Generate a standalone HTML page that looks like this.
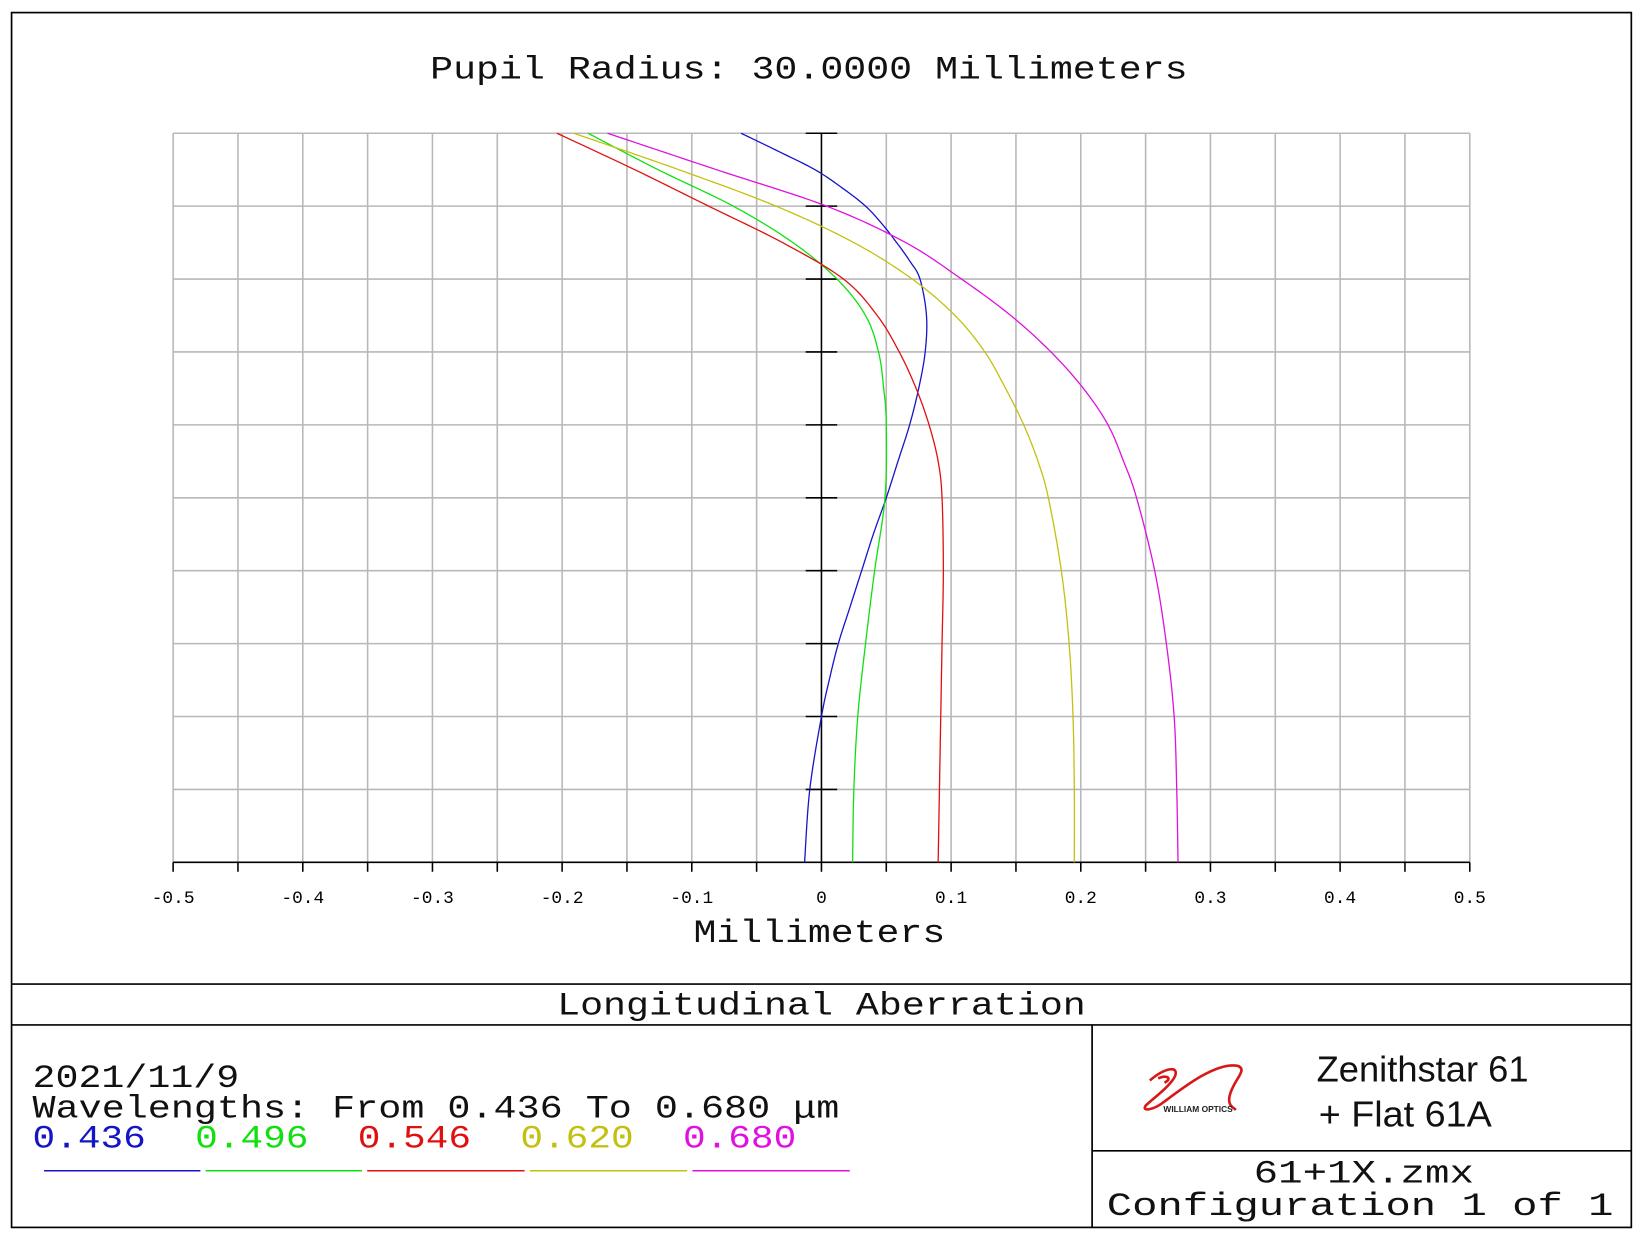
<!DOCTYPE html>
<html><head><meta charset="utf-8"><style>
html,body{margin:0;padding:0;background:#fff;}
svg{display:block;}
.m{font-family:"Liberation Mono","DejaVu Sans Mono",monospace;}
</style></head><body>
<svg width="1645" height="1240" viewBox="0 0 1568 1182" xmlns="http://www.w3.org/2000/svg">
<rect x="0" y="0" width="1568" height="1182" fill="#fff"/>
<rect x="11" y="12" width="1544" height="1158" fill="none" stroke="#000" stroke-width="1.6"/>
<text class="m" x="771" y="75" font-size="31" fill="#111" text-anchor="middle" textLength="722" lengthAdjust="spacingAndGlyphs">Pupil Radius: 30.0000 Millimeters</text>
<g stroke="#b8b8b8" stroke-width="1.5" fill="none">
<path d="M165 127V822M226.8 127V822M288.6 127V822M350.4 127V822M412.2 127V822M474 127V822M535.8 127V822M597.6 127V822M659.4 127V822M721.2 127V822M844.8 127V822M906.6 127V822M968.4 127V822M1030.2 127V822M1092 127V822M1153.8 127V822M1215.6 127V822M1277.4 127V822M1339.2 127V822M1401 127V822"/>
<path d="M165 127H1401M165 196.5H1401M165 266H1401M165 335.5H1401M165 405H1401M165 474.5H1401M165 544H1401M165 613.5H1401M165 683H1401M165 752.5H1401"/>
</g>
<g stroke="#000" stroke-width="1.5" fill="none">
<path d="M165 822H1401M783 127V822"/>
<path d="M768 127H798M768 196.5H798M768 266H798M768 335.5H798M768 405H798M768 474.5H798M768 544H798M768 613.5H798M768 683H798M768 752.5H798"/>
<path d="M165 822v9M226.8 822v9M288.6 822v9M350.4 822v9M412.2 822v9M474 822v9M535.8 822v9M597.6 822v9M659.4 822v9M721.2 822v9M783 822v9M844.8 822v9M906.6 822v9M968.4 822v9M1030.2 822v9M1092 822v9M1153.8 822v9M1215.6 822v9M1277.4 822v9M1339.2 822v9M1401 822v9"/>
</g>
<g class="m" font-size="17" text-anchor="middle" fill="#000">
<text x="165" y="861">-0.5</text><text x="288.6" y="861">-0.4</text><text x="412.2" y="861">-0.3</text><text x="535.8" y="861">-0.2</text><text x="659.4" y="861">-0.1</text><text x="783" y="861">0</text><text x="906.6" y="861">0.1</text><text x="1030.2" y="861">0.2</text><text x="1153.8" y="861">0.3</text><text x="1277.4" y="861">0.4</text><text x="1401" y="861">0.5</text>
</g>
<text class="m" x="781" y="898" font-size="31" fill="#111" text-anchor="middle" textLength="240" lengthAdjust="spacingAndGlyphs">Millimeters</text>
<g transform="translate(783,127) scale(1236,69.5)" fill="none" stroke-width="1.3">
<polyline class="c" vector-effect="non-scaling-stroke" stroke="#1515c8" points="-0.062,0 -0.033,0.25 -0.005,0.5 0.016,0.75 0.034,1 0.047,1.25 0.058,1.5 0.068,1.75 0.076,2 0.081,2.5 0.080,3 0.075,3.5 0.068,4 0.059,4.5 0.050,5 0.040,5.5 0.031,6 0.022,6.5 0.013,7 0.006,7.5 0,8 -0.009,9 -0.013,10"/>
<polyline class="c" vector-effect="non-scaling-stroke" stroke="#10e010" points="-0.18,0 -0.126,0.5 -0.068,1 -0.022,1.5 0.012,2 0.034,2.5 0.044,3 0.048,3.5 0.050,4 0.049,5 0.041,6 0.034,7 0.028,8 0.025,9 0.024,10"/>
<polyline class="c" vector-effect="non-scaling-stroke" stroke="#e01010" points="-0.204,0 -0.144,0.5 -0.087,1 -0.030,1.5 0.017,2 0.043,2.5 0.060,3 0.073,3.5 0.083,4 0.090,4.5 0.093,5 0.094,6 0.093,7 0.092,8 0.091,9 0.090,10"/>
<polyline class="c" vector-effect="non-scaling-stroke" stroke="#c4c010" points="-0.191,0 -0.11,0.5 -0.035,1 0.025,1.5 0.070,2 0.103,2.5 0.126,3 0.142,3.5 0.156,4 0.167,4.5 0.175,5 0.185,6 0.191,7 0.194,8 0.195,9 0.195,10"/>
<polyline class="c" vector-effect="non-scaling-stroke" stroke="#e010e0" points="-0.165,0 -0.081,0.5 0.004,1 0.065,1.5 0.108,2 0.146,2.5 0.177,3 0.202,3.5 0.221,4 0.233,4.5 0.243,5 0.257,6 0.266,7 0.272,8 0.274,9 0.275,10"/>
</g>
<g stroke="#000" stroke-width="1.6" fill="none">
<path d="M11 938H1555M11 977H1555M1041 977V1170M1041 1097H1555"/>
</g>
<text class="m" x="783" y="967" font-size="31" fill="#111" text-anchor="middle" textLength="504" lengthAdjust="spacingAndGlyphs">Longitudinal Aberration</text>
<text class="m" x="31" y="1036" font-size="31" fill="#111" textLength="197" lengthAdjust="spacingAndGlyphs">2021/11/9</text>
<text class="m" x="31" y="1065" font-size="31" fill="#111" textLength="769" lengthAdjust="spacingAndGlyphs">Wavelengths: From 0.436 To 0.680 μm</text>
<g class="m" font-size="31">
<text x="31" y="1094" fill="#1515c8" textLength="108" lengthAdjust="spacingAndGlyphs">0.436</text>
<text x="186" y="1094" fill="#10e010" textLength="108" lengthAdjust="spacingAndGlyphs">0.496</text>
<text x="341" y="1094" fill="#e01010" textLength="108" lengthAdjust="spacingAndGlyphs">0.546</text>
<text x="496" y="1094" fill="#c4c010" textLength="108" lengthAdjust="spacingAndGlyphs">0.620</text>
<text x="651" y="1094" fill="#e010e0" textLength="108" lengthAdjust="spacingAndGlyphs">0.680</text>
</g>
<g stroke-width="1.5">
<path d="M42 1116H191" stroke="#1515c8"/><path d="M196 1116H345" stroke="#10e010"/><path d="M350 1116H500" stroke="#e01010"/><path d="M505 1116H655" stroke="#c4c010"/><path d="M660 1116H810" stroke="#e010e0"/>
</g>
<text class="m" x="1300" y="1127" font-size="31" fill="#111" text-anchor="middle" textLength="210" lengthAdjust="spacingAndGlyphs">61+1X.zmx</text>
<text class="m" x="1055" y="1158" font-size="31" fill="#111" textLength="483" lengthAdjust="spacingAndGlyphs">Configuration 1 of 1</text>
<g font-family="'Liberation Sans Narrow','Liberation Sans',sans-serif" font-size="34" fill="#111">
<text x="1255" y="1031" textLength="202" lengthAdjust="spacingAndGlyphs">Zenithstar 61</text>
<text x="1257" y="1074" textLength="165" lengthAdjust="spacingAndGlyphs">+  Flat 61A</text>
</g>
<g fill="none" stroke="#d81818" stroke-width="2.5">
<path d="M1096 1030 C1110 1018,1124 1015,1120 1026 C1115 1036,1098 1048,1092 1054 C1088 1060,1100 1058,1110 1050 C1130 1035,1160 1012,1180 1016 C1190 1020,1175 1030,1172 1045 C1170 1054,1176 1056,1178 1058"/>
<path d="M1104 1028 C1112 1024,1118 1028,1110 1032"/>
</g>
<text x="1109" y="1060" font-family="'Liberation Sans Narrow','Liberation Sans',sans-serif" font-size="8" font-weight="bold" fill="#222">WILLIAM OPTICS</text>
</svg>
<script>
document.querySelectorAll('polyline.c').forEach(function(pl){
  var p=pl.getAttribute('points').trim().split(/\s+/).map(function(s){return s.split(',').map(Number);});
  var out=[];
  for(var i=0;i<p.length-1;i++){
    var p0=p[Math.max(i-1,0)],p1=p[i],p2=p[i+1],p3=p[Math.min(i+2,p.length-1)];
    for(var k=0;k<12;k++){
      var t=k/12,t2=t*t,t3=t2*t;
      var f=function(a,b,c,d){return 0.5*((2*b)+(-a+c)*t+(2*a-5*b+4*c-d)*t2+(-a+3*b-3*c+d)*t3);};
      out.push(f(p0[0],p1[0],p2[0],p3[0]).toFixed(5)+','+f(p0[1],p1[1],p2[1],p3[1]).toFixed(5));
    }
  }
  out.push(p[p.length-1].join(','));
  pl.setAttribute('points',out.join(' '));
});
</script>
</body></html>
